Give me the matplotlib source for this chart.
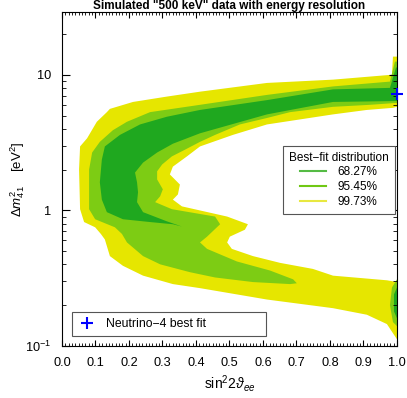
import numpy as np
import matplotlib
matplotlib.use('Agg')
import matplotlib.pyplot as plt
from matplotlib.ticker import MultipleLocator, LogLocator, NullFormatter

### Plot formatting ###
plt.rc('font', family=['Liberation Sans', 'DejaVu Sans'], size=9.2)
plt.rc('mathtext', fontset='custom', rm='Liberation Sans',
       it='Liberation Sans:italic', bf='Liberation Sans:bold')

# Contour outlines: (sin^2 2theta, dm^2 [eV^2])
# outer edge going down, then inner edge going back up
y3_x = [0.988, 0.985, 0.809, 0.612, 0.412, 0.313, 0.212, 0.143, 0.134, 0.104,
        0.075, 0.054, 0.051, 0.054, 0.066, 0.099, 0.116, 0.128, 0.143, 0.182,
        0.242, 0.331, 0.412, 0.612, 0.809, 0.910, 0.970, 1.0,
        1.0, 0.970, 0.809, 0.749, 0.651, 0.570, 0.507, 0.493, 0.501, 0.546,
        0.555, 0.493, 0.358, 0.331, 0.346, 0.352, 0.322, 0.331, 0.373, 0.412,
        0.510, 0.612, 0.809, 0.910, 0.988, 1.0, 1.0]
y3_m = [13.6, 10.0, 9.2, 8.7, 7.5, 6.9, 6.3, 5.6, 5.3, 4.5,
        3.4, 2.96, 2.0, 1.02, 0.82, 0.75, 0.67, 0.61, 0.46, 0.39,
        0.33, 0.286, 0.267, 0.22, 0.19, 0.17, 0.145, 0.112,
        0.296, 0.305, 0.33, 0.37, 0.41, 0.46, 0.52, 0.58, 0.64, 0.72,
        0.79, 0.90, 1.07, 1.2, 1.31, 1.55, 1.84, 2.1, 2.5, 2.96,
        3.6, 4.3, 5.1, 5.5, 5.7, 5.8, 13.6]

y2_x = [0.994, 0.979, 0.809, 0.612, 0.412, 0.263, 0.194, 0.152, 0.113, 0.090,
        0.081, 0.081, 0.099, 0.158, 0.179, 0.194, 0.242, 0.293, 0.382, 0.457,
        0.570, 0.681, 0.701,
        0.690, 0.621, 0.522, 0.433, 0.412, 0.433, 0.472, 0.457, 0.328, 0.278,
        0.293, 0.301, 0.284, 0.284, 0.299, 0.328, 0.367, 0.412, 0.457, 0.531,
        0.612, 0.681, 0.809, 0.919, 1.0, 1.0]
y2_m = [12.5, 8.9, 8.2, 7.1, 6.0, 5.3, 4.5, 3.9, 3.2, 2.67,
        2.0, 1.02, 0.86, 0.75, 0.67, 0.58, 0.46, 0.40, 0.35, 0.32,
        0.296, 0.286, 0.29,
        0.31, 0.36, 0.42, 0.52, 0.58, 0.64, 0.79, 0.90, 1.02, 1.15,
        1.27, 1.43, 1.69, 1.94, 2.18, 2.5, 2.8, 3.2, 3.6, 4.3,
        4.8, 5.3, 5.8, 6.0, 6.2, 12.5]

y1_x = [0.997, 0.979, 0.809, 0.612, 0.412, 0.313, 0.233, 0.173, 0.128, 0.119,
        0.113, 0.119, 0.134, 0.182, 0.263, 0.331, 0.358,
        0.313, 0.242, 0.224, 0.227, 0.224, 0.218, 0.242, 0.284, 0.331, 0.412,
        0.612, 0.809, 1.0, 1.0]
y1_m = [11.3, 8.0, 7.8, 6.5, 5.5, 4.9, 4.3, 3.6, 2.96, 2.37,
        1.61, 1.2, 0.97, 0.86, 0.82, 0.79, 0.76,
        0.83, 0.97, 1.15, 1.36, 1.61, 1.9, 2.25, 2.67, 3.1, 3.7,
        5.1, 6.3, 6.4, 11.3]

# small islands at sin^2 2theta = 1, low dm^2
e2_x = [1.0, 0.985, 0.979, 0.988, 1.0]
e2_m = [0.31, 0.27, 0.20, 0.15, 0.14]
e1_x = [1.0, 0.991, 0.991, 1.0]
e1_m = [0.27, 0.24, 0.18, 0.16]

levels = ['68.27%', '95.45%', '99.73%']
fill_cols = ['#1fa81f', '#7dcc14', '#e6e600']
leg_cols = ['#55bb44', '#70c814', '#e8e840']

n4_x = [1.0]
n4_m = [7.2]

fig = plt.figure(figsize=(4.07, 3.98), dpi=100)
ax = fig.add_axes([0.1523, 0.1307, 0.8231, 0.8391])

ax.fill(y3_x, y3_m, color=fill_cols[2], lw=0)
ax.fill(y2_x, y2_m, color=fill_cols[1], lw=0)
ax.fill(e2_x, e2_m, color=fill_cols[1], lw=0)
ax.fill(y1_x, y1_m, color=fill_cols[0], lw=0)
ax.fill(e1_x, e1_m, color=fill_cols[0], lw=0)

ax.set_yscale('log')
ax.set_xlim(0, 1)
ax.set_ylim(0.1, 29)

# legends
hs = [plt.Line2D([], [], color=c, lw=1.5) for c in leg_cols]
leg1 = ax.legend(hs, levels, title='Best\u2212fit distribution', loc='upper left',
                 bbox_to_anchor=(0.66, 0.60), borderaxespad=0, fancybox=False,
                 framealpha=1, edgecolor='#555555', handlelength=2.2,
                 handletextpad=1.0, labelspacing=0.25, borderpad=0.5,
                 fontsize=8.5, title_fontsize=8.5)
leg1.get_frame().set_linewidth(0.8)
ax.add_artist(leg1)

n4, = ax.plot(n4_x, n4_m, '+', color='#0000ff', ms=9, mew=1.5, clip_on=False,
              zorder=5)
leg2 = ax.legend([n4], ['Neutrino\u22124 best fit'], loc='lower left',
                 bbox_to_anchor=(0.03, 0.03, 0.579, 0.081), mode='expand',
                 borderaxespad=0, fancybox=False, framealpha=1,
                 edgecolor='#555555', handlelength=1.5, handletextpad=0.8,
                 borderpad=0.5, fontsize=8.8)
leg2.get_frame().set_linewidth(0.8)

# ticks
ax.xaxis.set_major_locator(MultipleLocator(0.1))
ax.xaxis.set_minor_locator(MultipleLocator(0.01))
ax.xaxis.set_major_formatter(plt.FuncFormatter(lambda v, p: '%.1f' % v))
ax.set_yticks([0.1, 1, 10])
ax.set_yticklabels(['$10^{-1}$', '1', '10'])
ax.yaxis.set_minor_locator(LogLocator(base=10, subs=np.arange(2, 10)))
ax.yaxis.set_minor_formatter(NullFormatter())
ax.tick_params(which='both', direction='in', top=True, right=True)
ax.tick_params(axis='x', which='major', length=4.5, pad=8)
ax.tick_params(axis='x', which='minor', length=2)
ax.tick_params(axis='y', which='major', length=5.5, pad=8)
ax.tick_params(axis='y', which='minor', length=3)

ax.set_xlabel('sin$^2$2$\\vartheta_{ee}$', fontsize=10, labelpad=3)
ax.set_ylabel('$\\Delta m^2_{41}$    [eV$^2$]', fontsize=9.5)
ax.yaxis.set_label_coords(-0.105, 0.5)
ax.set_title('Simulated "500 keV" data with energy resolution',
             fontsize=8.5, fontweight='bold', pad=2)

fig.savefig('out.png', dpi=100)
